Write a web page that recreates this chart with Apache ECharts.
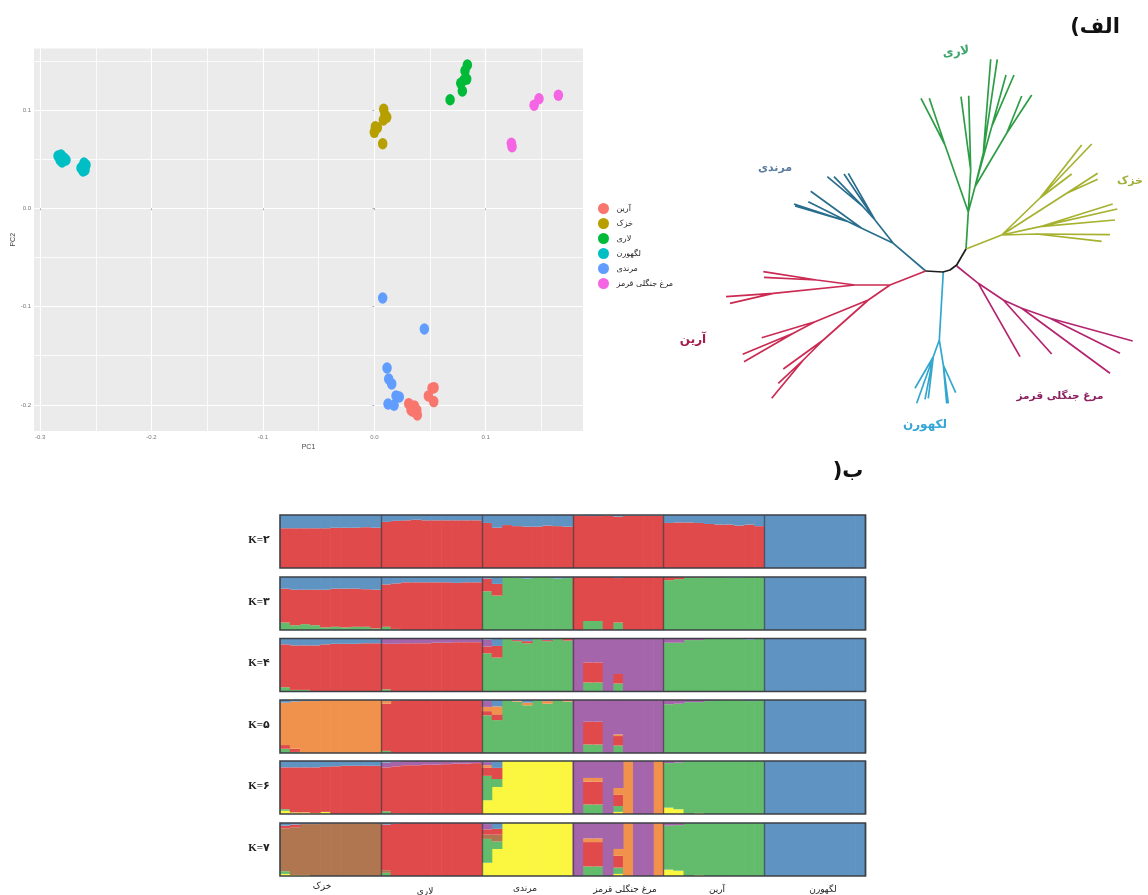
<!DOCTYPE html>
<html><head><meta charset="utf-8">
<style>html,body{margin:0;padding:0;background:#fff}#c{width:1148px;height:895px}</style>
<script src="https://cdn.jsdelivr.net/npm/echarts@6/dist/echarts.min.js"></script>
</head><body><div id="c"></div>
<script>
// ---------- PCA scatter values (PC1, PC2) ----------
const pcaAryan = [[.0536,-.1825],[.0518,-.1831],[.0485,-.1909],[.0533,-.1967],[.0309,-.1988],[.0359,-.2011],[.0329,-.2052],[.0381,-.2052],[.0386,-.2103],[.0345,-.2065]];
const pcaKhazak = [[.0084,.1007],[.0096,.0949],[.0111,.0926],[.0081,.0898],[.0027,.0820],[.0009,.0830],[0,.0773],[.0075,.0657]];
const pcaLari = [[.0835,.1458],[.0814,.1400],[.0829,.1315],[.0805,.1305],[.0776,.1272],[.0790,.1193],[.0680,.1105]];
const pcaLakehorn = [[-.2839,.0532],[-.2812,.0542],[-.2786,.0512],[-.2768,.0491],[-.2821,.0491],[-.2803,.0471],[-.2606,.0461],[-.2615,.0430],[-.2588,.0440],[-.2633,.0410],[-.2597,.0390],[-.2615,.0379]];
const pcaMarandi = [[.0075,-.0913],[.0449,-.1228],[.0114,-.1625],[.0129,-.1737],[.0156,-.1787],[.0195,-.1909],[.0224,-.1920],[.0123,-.1991],[.0177,-.2004]];
const pcaJunglefowl = [[.1652,.1150],[.1478,.1115],[.1434,.1048],[.1230,.0661],[.1236,.0627]];
const pcaNames = ['آرین','خزک','لاری','لگهورن','مرندی','مرغ جنگلی قرمز'];
const pcaColors = ['#F8766D','#B79F00','#00BA38','#00BFC4','#619CFF','#F564E3'];
const xMajor = [-.3,-.2,-.1,0,.1];
const xMinor = [-.25,-.15,-.05,.05,.15];
const yMajor = [-.2,-.1,0,.1];
const yMinor = [-.15,-.05,.05,.15];

// ---------- unrooted tree branches ----------
const treeCore = [[[925.7,271],[943,272],[950,270],[956.7,265],[966,249]]];
const treeLari = [[[966,249],[968.3,212]],[[968.3,212],[945,145],[921,98.3]],[[945,145],[929.3,98.3]],[[968.3,212],[970.7,170],[961,96.7]],[[970.7,170],[968.7,95.7]],[[968.3,212],[975,186.7],[983.3,153.3],[990.7,59.3]],[[983.3,153.3],[997.3,59.3]],[[975,186.7],[991.7,126.7],[1006,75]],[[991.7,126.7],[1014,75]],[[975,186.7],[1006.7,133.3],[1021.7,96]],[[1006.7,133.3],[1031.7,95]]];
const treeKhazak = [[[966,249],[1001.7,235]],[[1001.7,235],[1040,198],[1081.7,145]],[[1040,198],[1091.7,144]],[[1040,198],[1071.7,174]],[[1001.7,235],[1066.7,193.3],[1097.7,173.3]],[[1066.7,193.3],[1097.7,179.3]],[[1001.7,235],[1040,226.7],[1112.7,204]],[[1040,226.7],[1117.3,209]],[[1040,226.7],[1115,220]],[[1001.7,235],[1036.7,234],[1110,234.7]],[[1036.7,234],[1101.7,241.3]]];
const treeMarandi = [[[925.7,271],[893.3,243.3]],[[893.3,243.3],[875,220],[863,206.7],[827.3,176.7]],[[863,206.7],[834,176.7]],[[875,220],[844,174]],[[875,220],[848.3,173.3]],[[893.3,243.3],[861.7,228.3],[810.7,191.3]],[[861.7,228.3],[848.3,221.7],[808.3,201.7]],[[848.3,221.7],[794,204]],[[848.3,221.7],[795,206]]];
const treeAryan = [[[925.7,271],[890,285]],[[890,285],[855,285],[816.7,280],[763.3,271.7]],[[816.7,280],[764,277.3]],[[855,285],[773.3,293.3],[726,296.7]],[[773.3,293.3],[730,303.3]],[[890,285],[868.3,300],[815,321.7],[761.7,337.7]],[[815,321.7],[793.3,333.3],[742.7,354.3]],[[793.3,333.3],[744,361.7]],[[868.3,300],[823.3,340],[783.3,369]],[[823.3,340],[803.3,360],[778.3,383.3]],[[803.3,360],[771.7,398.3]]];
const treeLakehorn = [[[943.3,271.7],[939.3,340]],[[939.3,340],[933.3,356.7],[915,388.3]],[[933.3,356.7],[916.7,403.3]],[[933.3,356.7],[925,399.3]],[[933.3,356.7],[928.3,398.3]],[[939.3,340],[943.3,365],[948.3,403.3]],[[943.3,365],[946.7,403.3]],[[943.3,365],[955.7,392.7]]];
const treeJunglefowl = [[[956.7,266],[978.3,283.3],[1020,356.7]],[[978.3,283.3],[1003.3,300],[1051.7,354]],[[1003.3,300],[1021.7,308.3],[1110,373.3]],[[1021.7,308.3],[1050,318.3],[1132.7,341]],[[1050,318.3],[1120,353.3]]];

// ---------- admixture bars: 58 individuals (10,10,9,9,10,10) ----------
const popNames = ['خزک','لاری','مرندی','مرغ جنگلی قرمز','آرین','لگهورن'];
const popSizes = [10,10,9,9,10,10];
const kLabels = ['K=۲','K=۳','K=۴','K=۵','K=۶','K=۷'];
const colYellow='#FBF640',colGreen='#62BC6B',colBrown='#B07650',colRed='#E04A4B',colOrange='#F0924C',colPurple='#A565AA',colBlue='#5F93C2';

const k2Red=[.75,.75,.75,.75,.75,.76,.76,.76,.77,.76, .87,.89,.90,.91,.90,.90,.90,.90,.90,.90, .85,.76,.81,.79,.78,.78,.80,.79,.78, .99,.98,.98,.99,.97,.99,.99,.99,.99, .85,.86,.86,.85,.83,.82,.82,.80,.82,.79, 0,0,0,0,0,0,0,0,0,0];
const k2Blue=[.25,.25,.25,.25,.25,.24,.24,.24,.23,.24, .13,.11,.10,.09,.10,.10,.10,.10,.10,.10, .15,.24,.19,.21,.22,.22,.20,.21,.22, .01,.02,.02,.01,.03,.01,.01,.01,.01, .15,.14,.14,.15,.17,.18,.18,.20,.18,.21, 1,1,1,1,1,1,1,1,1,1];

const k3Green=[.14,.09,.11,.09,.05,.06,.05,.06,.06,.03, .06,.02,0,0,0,0,0,0,0,0, .73,.65,1,.99,.97,1,1,.97,.98, 0,.17,.17,0,.14,0,0,0,0, .94,.96,1,.99,1,1,.99,.99,1,1, 0,0,0,0,0,0,0,0,0,0];
const k3Red=[.64,.67,.65,.67,.71,.72,.73,.72,.71,.73, .80,.86,.90,.90,.90,.90,.90,.89,.90,.90, .24,.22,0,0,0,0,0,0,0, 1,.83,.83,1,.84,1,1,1,1, .06,.04,0,.01,0,0,0,0,0,0, 0,0,0,0,0,0,0,0,0,0];
const k3Blue=[.22,.24,.24,.24,.24,.22,.22,.22,.23,.24, .14,.12,.10,.10,.10,.10,.10,.11,.10,.10, .03,.13,0,.01,.03,0,0,.03,.02, 0,0,0,0,.02,0,0,0,0, 0,0,0,0,0,0,.01,.01,0,0, 1,1,1,1,1,1,1,1,1,1];

const k4Green=[.08,.03,.03,0,0,0,0,0,0,0, .04,0,0,0,0,0,0,0,0,0, .72,.64,1,.95,.91,1,.95,1,.96, 0,.17,.17,0,.15,0,0,0,0, .92,.92,.97,.97,1,1,1,1,.98,1, 0,0,0,0,0,0,0,0,0,0];
const k4Red=[.81,.84,.84,.87,.89,.90,.90,.90,.91,.91, .86,.90,.91,.91,.91,.92,.92,.93,.93,.93, .13,.22,0,.02,.04,0,.02,0,.04, 0,.38,.38,0,.18,0,0,0,0, 0,0,0,0,0,0,0,0,0,0, 0,0,0,0,0,0,0,0,0,0];
const k4Purple=[0,0,0,0,0,0,0,0,0,0, .10,.10,.09,.09,.09,.08,.08,.07,.07,.07, .13,0,0,0,0,0,0,0,0, 1,.45,.45,1,.67,1,1,1,1, .08,.08,.03,.03,0,0,0,0,0,0, 0,0,0,0,0,0,0,0,0,0];
const k4Blue=[.11,.13,.13,.13,.11,.10,.10,.10,.09,.09, 0,0,0,0,0,0,0,0,0,0, .02,.14,0,.03,.05,0,.03,0,0, 0,0,0,0,0,0,0,0,0, 0,0,0,0,0,0,0,0,.02,0, 1,1,1,1,1,1,1,1,1,1];

const k5Green=[.08,.02,0,0,0,0,0,0,0,0, .04,0,0,0,0,0,0,0,0,0, .71,.62,1,.97,.90,1,.93,1,.97, 0,.16,.16,0,.14,0,0,0,0, .92,.93,.96,.96,.98,1,1,1,.98,1, 0,0,0,0,0,0,0,0,0,0];
const k5Red=[.07,.06,0,0,0,0,0,0,0,0, .89,.99,1,1,1,1,1,1,1,1, .08,.11,0,0,0,0,0,0,0, 0,.43,.43,0,.18,0,0,0,0, 0,0,0,0,0,0,0,0,0,0, 0,0,0,0,0,0,0,0,0,0];
const k5Orange=[.80,.89,.98,.98,1,1,1,1,1,1, .05,0,0,0,0,0,0,0,0,0, .08,.15,0,.02,.05,0,.05,0,.03, 0,0,0,0,.03,0,0,0,0, 0,0,0,0,0,0,0,0,0,0, 0,0,0,0,0,0,0,0,0,0];
const k5Purple=[0,0,0,0,0,0,0,0,0,0, 0,0,0,0,0,0,0,0,0,0, .11,0,0,0,0,0,0,0,0, 1,.41,.41,1,.65,1,1,1,1, .08,.07,.04,.04,.02,0,0,0,0,0, 0,0,0,0,0,0,0,0,0,0];
const k5Blue=[.05,.03,.02,.02,0,0,0,0,0,0, .02,.01,0,0,0,0,0,0,0,0, .02,.12,0,.01,.05,0,.02,0,0, 0,0,0,0,0,0,0,0,0, 0,0,0,0,0,0,0,0,.02,0, 1,1,1,1,1,1,1,1,1,1];

const k6Yellow=[.06,.03,.03,.02,.04,0,0,0,0,0, 0,0,0,0,0,0,0,0,0,0, .26,.51,1,1,1,1,1,1,1, 0,0,0,0,.04,0,0,0,0, .12,.09,0,.02,0,0,0,0,0,0, 0,0,0,0,0,0,0,0,0,0];
const k6Green=[.03,0,0,0,0,0,0,0,0,0, .05,.01,0,0,0,0,0,0,0,0, .46,.15,0,0,0,0,0,0,0, 0,.18,.18,0,.11,0,0,0,0, .84,.88,1,.98,1,1,1,1,1,1, 0,0,0,0,0,0,0,0,0,0];
const k6Red=[.79,.85,.85,.86,.85,.90,.91,.91,.91,.91, .83,.89,.92,.92,.93,.93,.94,.95,.95,.96, .15,.21,0,0,0,0,0,0,0, 0,.43,.43,0,.21,0,0,0,0, 0,0,0,0,0,0,0,0,0,0, 0,0,0,0,0,0,0,0,0,0];
const k6Orange=[0,0,0,0,0,0,0,0,0,0, 0,0,0,0,0,0,0,0,0,0, .05,0,0,0,0,0,0,0,0, 0,.07,.07,0,.13,1,0,0,1, 0,0,0,0,0,0,0,0,0,0, 0,0,0,0,0,0,0,0,0,0];
const k6Purple=[0,0,0,0,0,0,0,0,0,0, .09,.09,.08,.08,.07,.07,.06,.05,.05,.04, .06,0,0,0,0,0,0,0,0, 1,.32,.32,1,.51,0,1,1,0, .04,.03,0,0,0,0,0,0,0,0, 0,0,0,0,0,0,0,0,0,0];
const k6Blue=[.12,.12,.12,.12,.11,.10,.09,.09,.09,.09, .03,.01,0,0,0,0,0,0,0,0, .02,.13,0,0,0,0,0,0,0, 0,0,0,0,0,0,0,0,0, 0,0,0,0,0,0,0,0,0,0, 1,1,1,1,1,1,1,1,1,1];

const k7Yellow=[.04,.02,.02,0,0,0,0,0,0,0, 0,0,0,0,0,0,0,0,0,0, .25,.51,1,1,1,1,1,1,1, 0,0,0,0,.04,0,0,0,0, .12,.10,0,.02,0,0,0,0,0,0, 0,0,0,0,0,0,0,0,0,0];
const k7Green=[.05,0,0,0,0,0,0,0,0,0, .06,0,0,0,0,0,0,0,0,0, .45,.14,0,0,0,0,0,0,0, 0,.18,.18,0,.11,0,0,0,0, .83,.86,1,.98,1,1,1,1,1,1, 0,0,0,0,0,0,0,0,0,0];
const k7Brown=[.81,.90,.96,.98,1,1,1,1,1,1, .05,0,0,0,0,0,0,0,0,0, .08,.13,0,0,0,0,0,0,0, 0,0,0,0,.01,0,0,0,0, 0,0,0,0,0,0,0,0,0,0, 0,0,0,0,0,0,0,0,0,0];
const k7Red=[.05,.05,0,0,0,0,0,0,0,0, .86,.99,1,1,1,1,1,1,1,1, .10,.11,0,0,0,0,0,0,0, 0,.46,.46,0,.22,0,0,0,0, 0,0,0,0,0,0,0,0,0,0, 0,0,0,0,0,0,0,0,0,0];
const k7Orange=[0,0,0,0,0,0,0,0,0,0, 0,0,0,0,0,0,0,0,0,0, 0,0,0,0,0,0,0,0,0, 0,.07,.07,0,.13,1,0,0,1, 0,0,0,0,0,0,0,0,0,0, 0,0,0,0,0,0,0,0,0,0];
const k7Purple=[0,0,0,0,0,0,0,0,0,0, 0,0,0,0,0,0,0,0,0,0, .10,0,0,0,0,0,0,0,0, 1,.29,.29,1,.49,0,1,1,0, .05,.04,0,0,0,0,0,0,0,0, 0,0,0,0,0,0,0,0,0,0];
const k7Blue=[.05,.03,.02,.02,0,0,0,0,0,0, .03,.01,0,0,0,0,0,0,0,0, .02,.11,0,0,0,0,0,0,0, 0,0,0,0,0,0,0,0,0, 0,0,0,0,0,0,0,0,0,0, 1,1,1,1,1,1,1,1,1,1];

const kPanels=[
 [[k2Red,colRed],[k2Blue,colBlue]],
 [[k3Green,colGreen],[k3Red,colRed],[k3Blue,colBlue]],
 [[k4Green,colGreen],[k4Red,colRed],[k4Purple,colPurple],[k4Blue,colBlue]],
 [[k5Green,colGreen],[k5Red,colRed],[k5Orange,colOrange],[k5Purple,colPurple],[k5Blue,colBlue]],
 [[k6Yellow,colYellow],[k6Green,colGreen],[k6Red,colRed],[k6Orange,colOrange],[k6Purple,colPurple],[k6Blue,colBlue]],
 [[k7Yellow,colYellow],[k7Green,colGreen],[k7Brown,colBrown],[k7Red,colRed],[k7Orange,colOrange],[k7Purple,colPurple],[k7Blue,colBlue]]
];

// ---------- layout ----------
const panelTops=[515,577,638.5,700,761,823];
const panelH=53, panelL=280, panelW=585.5;
const FA='"DejaVu Sans","Noto Sans",sans-serif';
const boundaries=[]; popSizes.reduce((a,n)=>{boundaries.push(a);return a+n;},0);
const individuals=[]; popSizes.forEach((n,p)=>{for(let i=0;i<n;i++)individuals.push(popNames[p]+' '+(i+1));});

const grid=[
 {left:34,top:48.5,width:549,height:382.5,show:true,backgroundColor:'#EBEBEB',borderWidth:0},
 {left:700,top:40,width:448,height:410,show:false}
];
const xAxis=[
 {gridIndex:0,type:'value',min:-.3055,max:.1873,position:'bottom',
  name:'PC1',nameLocation:'middle',nameGap:13,nameTextStyle:{fontSize:7,color:'#444',fontFamily:'Liberation Sans'},
  axisLine:{show:false},axisTick:{show:true,length:2,lineStyle:{color:'#777',width:.6},customValues:xMajor},
  axisLabel:{customValues:xMajor,fontSize:6,color:'#777',margin:3,formatter:v=>v.toFixed(1)},
  splitLine:{show:true,lineStyle:{color:'#fff',width:1.1}}},
 {gridIndex:0,type:'value',min:-.3055,max:.1873,position:'bottom',
  axisLine:{show:false},axisTick:{show:false,customValues:xMinor},axisLabel:{show:false},
  splitLine:{show:true,lineStyle:{color:'#fff',width:.8}}},
 {gridIndex:1,type:'value',min:700,max:1148,show:false}
];
const yAxis=[
 {gridIndex:0,type:'value',min:-.2266,max:.1626,
  name:'PC2',nameLocation:'middle',nameGap:17,nameTextStyle:{fontSize:7,color:'#444',fontFamily:'Liberation Sans'},
  axisLine:{show:false},axisTick:{show:true,length:2,lineStyle:{color:'#777',width:.6},customValues:yMajor},
  axisLabel:{customValues:yMajor,fontSize:6,color:'#777',margin:3,formatter:v=>v.toFixed(1)},
  splitLine:{show:true,lineStyle:{color:'#fff',width:1.1}}},
 {gridIndex:0,type:'value',min:-.2266,max:.1626,position:'left',
  axisLine:{show:false},axisTick:{show:false,customValues:yMinor},axisLabel:{show:false},
  splitLine:{show:true,lineStyle:{color:'#fff',width:.8}}},
 {gridIndex:1,type:'value',min:40,max:450,inverse:true,show:false}
];
const series=[];
[pcaAryan,pcaKhazak,pcaLari,pcaLakehorn,pcaMarandi,pcaJunglefowl].forEach((d,i)=>{
 series.push({type:'scatter',name:pcaNames[i],xAxisIndex:0,yAxisIndex:0,data:d,symbol:'circle',symbolSize:[9.5,11.5],
  itemStyle:{color:pcaColors[i],opacity:1},silent:true,z:3});
});
const flat=b=>{const o=[];b.forEach((p,i)=>{if(i)o.push(null);p.forEach(q=>o.push(q));});return o;};
[['core',treeCore,'#1e1e1e'],['lari',treeLari,'#2E9E46'],['khazak',treeKhazak,'#A6B22F'],['marandi',treeMarandi,'#2A6E8E'],
 ['aryan',treeAryan,'#CB2A52'],['lakehorn',treeLakehorn,'#34A7CF'],['junglefowl',treeJunglefowl,'#B4246E']].forEach(t=>{
 series.push({type:'line',name:'tree-'+t[0],xAxisIndex:2,yAxisIndex:2,data:flat(t[1]),showSymbol:false,symbol:'none',connectNulls:false,
  clip:false,lineStyle:{color:t[2],width:1.7},silent:true,z:t[0]==='core'?4:3});
});
kPanels.forEach((layers,k)=>{
 const g=grid.length, ax=xAxis.length;
 grid.push({left:panelL,top:panelTops[k],width:panelW,height:panelH,show:true,backgroundColor:'transparent',borderColor:'#3c4046',borderWidth:1.6,z:6});
 xAxis.push({gridIndex:g,type:'category',data:individuals,z:5,axisLine:{show:false},axisTick:{show:false},axisLabel:{show:false},
  splitLine:{show:true,interval:(i)=>boundaries.includes(i)&&i>0,lineStyle:{color:'rgba(55,55,65,.65)',width:1.4}}});
 yAxis.push({gridIndex:g,type:'value',min:0,max:1,show:false,splitLine:{show:false}});
 layers.forEach((l,j)=>{
  series.push({type:'bar',name:'k'+(k+2)+'-'+j,stack:'k'+(k+2),xAxisIndex:ax,yAxisIndex:ax,data:l[0],barWidth:10.7,
   itemStyle:{color:l[1]},silent:true,z:2});
 });
});

const txt=(s,x,y,font,fill,rot)=>({type:'text',x,y,rotation:rot||0,silent:true,z:20,style:{text:s,x:0,y:0,font,fill,textAlign:'center',textVerticalAlign:'middle'}});
const cladeLabels=['لاری','مرندی','خزک','آرین','لکهورن','مرغ جنگلی قرمز'];
const cladeCols=['#3EA56C','#5A7C9E','#A2AF38','#A31C4A','#36A6D6','#8C2060'];
const cladeX=[956,775,1130,693,925,1060], cladeY=[52,168,181,340,425,396], cladeRot=[.12,0,0,0,0,0];
const cladeSize=[12,11,11,12,12,10.5];
const popLabelX=[322,425,525,625,717,823], popLabelY=[887,892,889,890,890,890];
const graphicEls=[];
cladeLabels.forEach((s,i)=>graphicEls.push(txt(s,cladeX[i],cladeY[i],'bold '+cladeSize[i]+'px '+FA,cladeCols[i],cladeRot[i])));
kLabels.forEach((s,i)=>graphicEls.push(txt(s,259,panelTops[i]+25,'bold 11px "Liberation Serif",'+FA,'#222')));
popNames.forEach((s,i)=>graphicEls.push(txt(s,popLabelX[i],popLabelY[i],'9px '+FA,'#222')));
graphicEls.push(txt('(الف',1095,28,'bold 21px '+FA,'#111'));
graphicEls.push(txt(')ب',848,472,'bold 21px '+FA,'#111'));

const chart=echarts.init(document.getElementById('c'),null,{renderer:'canvas',width:1148,height:895});
chart.setOption({
 animation:false,backgroundColor:'#fff',
 grid,xAxis,yAxis,series,
 legend:{data:pcaNames,orient:'vertical',left:593,top:198,icon:'circle',itemWidth:12,itemHeight:11,itemGap:4,selectedMode:false,
  textStyle:{fontSize:8,color:'#222',fontFamily:FA,padding:[0,0,0,2]}},
 graphic:{elements:graphicEls}
});
</script></body></html>
